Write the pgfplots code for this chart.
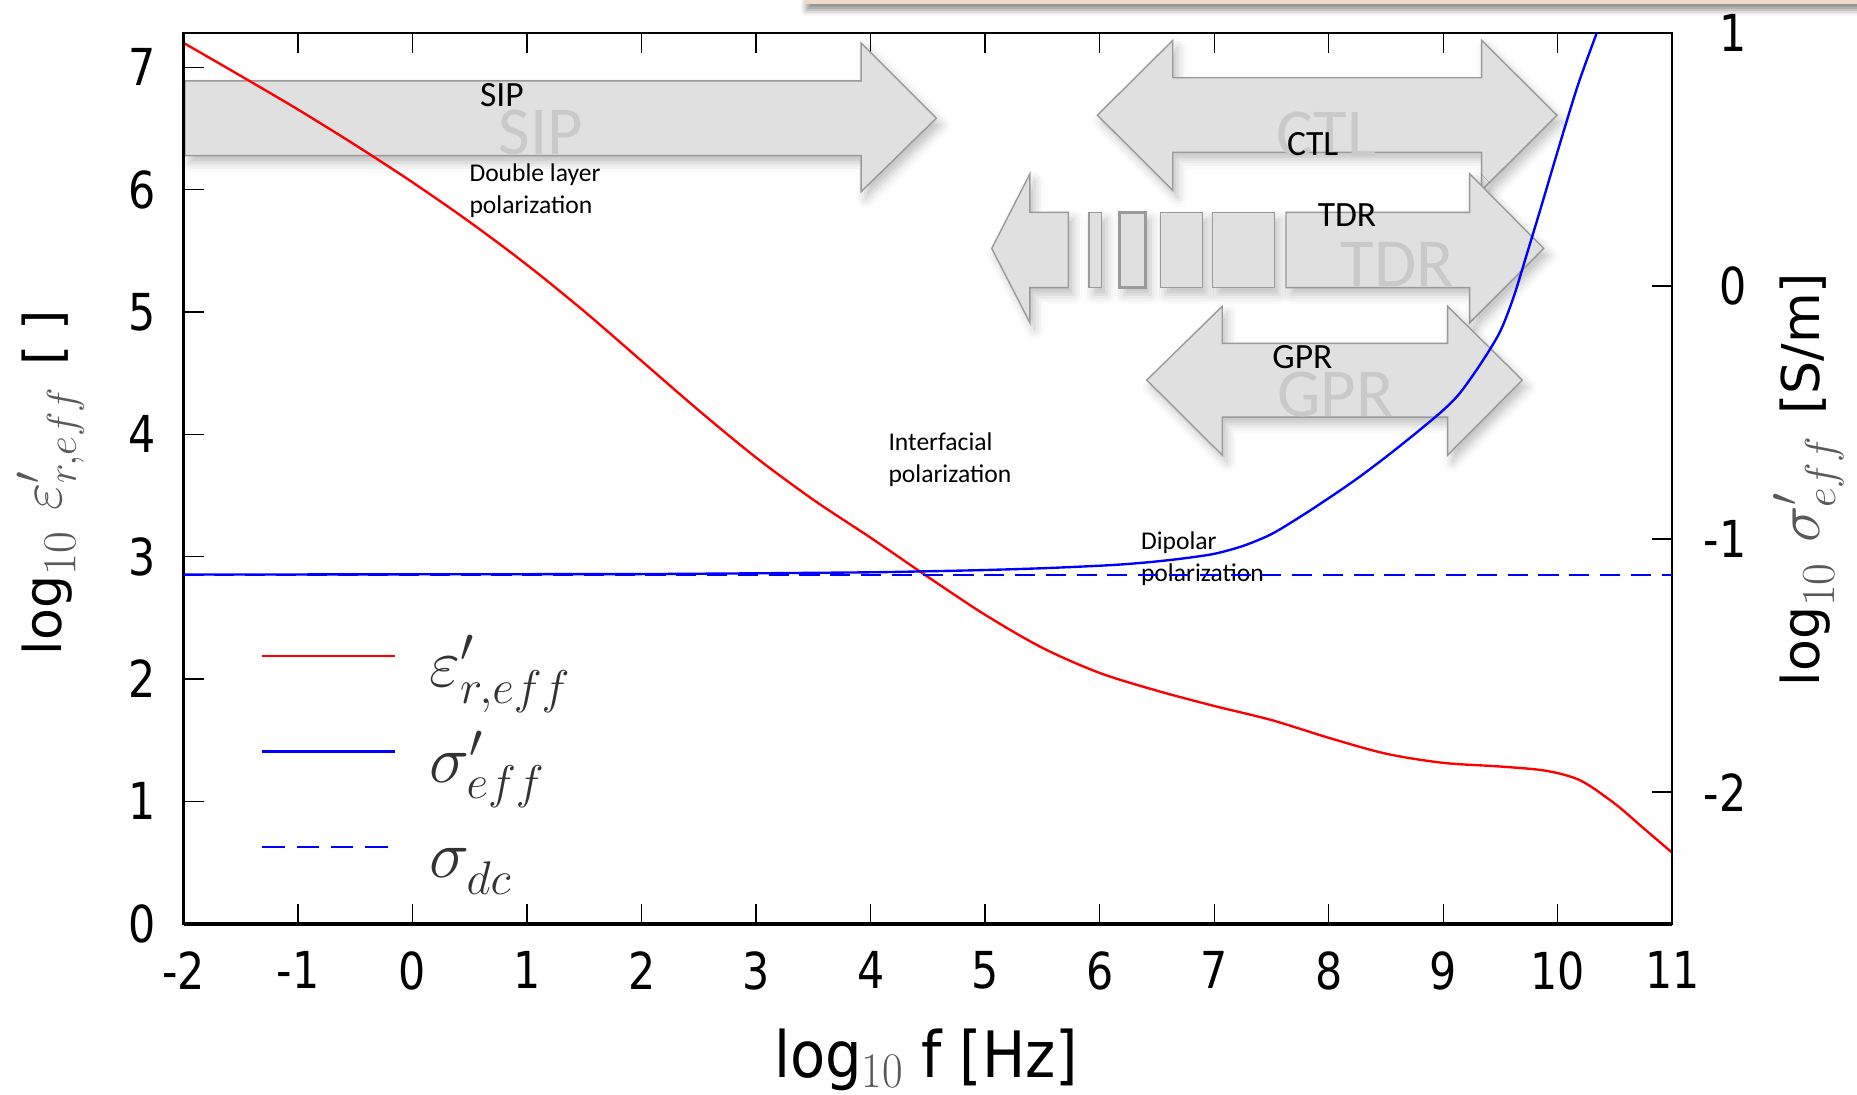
\RequirePackage{fix-cm}
\documentclass[border=0pt]{standalone}
\usepackage[no-math]{fontspec}
\setmainfont{DejaVu Sans}
\newfontfamily\calib{Carlito}
\usepackage{pgfplots}
\pgfplotsset{compat=1.18}
\usetikzlibrary{shadows.blur}
\definecolor{arrfill}{HTML}{E0E0E0}
\definecolor{arrdraw}{HTML}{9A9A9A}
\definecolor{ghostc}{HTML}{C9C9C9}
\definecolor{bandc}{HTML}{F2D8C6}
\newcommand{\sx}[1]{\scalebox{0.84}[1]{#1}}
\begin{document}
\begin{tikzpicture}[
  arr/.style={fill=arrfill, draw=arrdraw, line width=0.6pt, line join=miter,
     blur shadow={shadow xshift=2pt, shadow yshift=-3pt, shadow blur radius=4pt, shadow opacity=25}},
  ghost/.style={font=\calib\fontsize{29}{29}\selectfont, text=ghostc},
  lab/.style={font=\calib\fontsize{15}{15}\selectfont},
  small/.style={font=\calib\fontsize{10.8}{13.4}\selectfont, align=left, anchor=west, inner sep=0pt},
]
\begin{axis}[
  name=main,
  scale only axis, width=628.5pt, height=376pt,
  xmin=-2, xmax=11, ymin=0, ymax=7.28,
  clip=false,
  axis line style={line width=1pt},
  tick style={line width=0.6pt, black},
  major tick length=8.5pt,
  tick align=inside,
  xtick pos=both, ytick pos=left,
  xtick={-2,-1,0,1,2,3,4,5,6,7,8,9,10,11},
  xticklabels={\sx{-2},\sx{-1},\sx{0},\sx{1},\sx{2},\sx{3},\sx{4},\sx{5},\sx{6},\sx{7},\sx{8},\sx{9},\sx{10},\sx{11}},
  ytick={0,1,2,3,4,5,6,7},
  yticklabels={\sx{0},\sx{1},\sx{2},\sx{3},\sx{4},\sx{5},\sx{6},\sx{7}},
  xticklabel style={anchor=north, inner sep=0pt, yshift=-11.5pt, font=\fontsize{21.5}{21.5}\selectfont},
  yticklabel style={anchor=east, inner sep=0pt, xshift=-11.5pt, font=\fontsize{21.5}{21.5}\selectfont},
  xlabel={\scalebox{0.9}[1]{\fontsize{27}{27}\selectfont log\raisebox{-4pt}{\fontsize{21}{21}\selectfont\color{black!65}$10$}\ f [Hz]}},
  xlabel style={at={(rel axis cs:0.4988,-0.1729)}, anchor=base, inner sep=0pt},
  ylabel={\fontsize{22}{22}\selectfont log\raisebox{-6pt}{\fontsize{20}{20}\selectfont\color{black!65}$10$}\hspace{9pt}{\fontsize{25}{25}\selectfont\color{black!65}$\varepsilon'_{r,eff}$}\hspace{9pt}[\hspace{6pt}]},
  ylabel style={at={(rel axis cs:-0.0895,0.4953)}, anchor=center, inner sep=0pt},
  legend style={at={(rel axis cs:0.0517,0.324)}, anchor=north west, draw=none, fill=none,
    inner sep=0pt, row sep=17.5pt, column sep=14pt,
    font=\fontsize{28.5}{30}\selectfont, text=black!80, nodes={inner sep=0pt}},
  legend cell align=left,
  legend image code/.code={\draw[#1] (0pt,3pt) -- (56pt,3pt);},
]
\coordinate (BL) at (rel axis cs:-0.1233,-0.1915);
\coordinate (TR) at (rel axis cs:1.1241,1.0372);
% top band (cropped box)
\fill[bandc, blur shadow={shadow xshift=1pt, shadow yshift=-2.5pt, shadow blur radius=2.5pt, shadow opacity=45}]
  (rel axis cs:0.4169,1.0326) rectangle (rel axis cs:1.2,1.06);
% thicker bottom axis line
\draw[line width=1.6pt] (rel axis cs:0,0) -- (rel axis cs:1,0);
% arrows
\draw[arr] (-1.988,6.889) -- (3.916,6.889) -- (3.916,7.199) -- (4.573,6.584) -- (3.916,5.983) -- (3.916,6.279) -- (-1.988,6.279) -- cycle;
\draw[arr] (5.98,6.609) -- (6.638,7.221) -- (6.638,6.915) -- (9.335,6.915) -- (9.335,7.221) -- (9.993,6.609) -- (9.335,5.995) -- (9.335,6.306) -- (6.638,6.306) -- (6.638,5.995) -- cycle;
\draw[arr] (5.057,5.52) -- (5.391,6.130) -- (5.391,5.815) -- (5.727,5.815) -- (5.727,5.199) -- (5.391,5.199) -- (5.391,4.912) -- cycle;
\draw[arr] (5.907,5.199) rectangle (6.018,5.815);
\draw[arr, line width=1.2pt] (6.172,5.199) rectangle (6.402,5.815);
\draw[arr] (6.533,5.199) rectangle (6.896,5.815);
\draw[arr] (6.984,5.199) rectangle (7.526,5.815);
\draw[arr] (7.627,5.815) -- (9.231,5.815) -- (9.231,6.130) -- (9.877,5.52) -- (9.231,4.912) -- (9.231,5.199) -- (7.627,5.199) -- cycle;
\draw[arr] (6.411,4.444) -- (7.070,5.047) -- (7.070,4.744) -- (9.038,4.744) -- (9.038,5.047) -- (9.690,4.444) -- (9.038,3.830) -- (9.038,4.141) -- (7.070,4.141) -- (7.070,3.830) -- cycle;
% ghost labels
\node[ghost] at (1.12,6.47) {SIP};
\node[ghost] at (7.98,6.45) {CTL};
\node[ghost] at (8.60,5.385) {TDR};
\node[ghost] at (8.06,4.33) {GPR};
% epsilon curve
\addplot[red, line width=1pt, smooth] coordinates {
(-2,7.20) (-1.5,6.93) (-1,6.655) (-0.5,6.365) (0,6.06) (0.5,5.735) (1,5.385) (1.5,5.005)
(2,4.60) (2.5,4.195) (3,3.81) (3.5,3.465) (4,3.155) (4.5,2.835) (5,2.525) (5.5,2.255)
(6,2.05) (6.5,1.905) (7,1.78) (7.5,1.665) (8,1.52) (8.5,1.39) (9,1.315) (9.5,1.285)
(9.9,1.25) (10.2,1.17) (10.5,0.98) (10.75,0.78) (11,0.58)};
\addlegendentry{$\varepsilon'_{r,eff}$}
\addlegendimage{blue, line width=1pt}
\addlegendentry{$\sigma'_{eff}\vphantom{\varepsilon'_{r,eff}}$}
\addlegendimage{blue, line width=1pt, dash pattern=on 9.5pt off 5pt}
\addlegendentry{$\sigma^{}_{dc}\vphantom{\varepsilon'_{r,eff}}$}
% labels
\node[lab] at (0.78,6.77) {SIP};
\node[lab] at (7.86,6.37) {CTL};
\node[lab] at (8.16,5.79) {TDR};
\node[lab] at (7.77,4.628) {GPR};
\node[small] at (0.493,5.99) {Double layer\\polarization};
\node[small] at (4.152,3.795) {Interfacial\\polarization};
\node[small] at (6.357,2.986) {Dipolar\\polarization};
\end{axis}
\begin{axis}[
  scale only axis, width=628.5pt, height=376pt,
  xmin=-2, xmax=11, ymin=-2.52, ymax=1,
  hide x axis,
  axis line style={line width=1pt},
  ytick pos=right, yticklabel pos=right,
  tick style={line width=0.6pt, black},
  major tick length=8.5pt,
  tick align=inside,
  ytick={-2,-1,0,1},
  yticklabels={\sx{-2},\sx{-1},\sx{0},\sx{1}},
  yticklabel style={anchor=east, inner sep=0pt, xshift=31.5pt, font=\fontsize{21.5}{21.5}\selectfont},
  ylabel={\fontsize{22}{22}\selectfont log\raisebox{-6pt}{\fontsize{20}{20}\selectfont\color{black!65}$10$}\hspace{9pt}{\fontsize{26}{26}\selectfont\color{black!65}$\sigma'_{eff}$}\hspace{9pt}[S/m]},
  ylabel style={at={(rel axis cs:1.0915,0.4987)}, anchor=center, inner sep=0pt},
]
\addplot[blue, line width=1pt, dash pattern=on 8.5pt off 4.5pt] coordinates {(-2,-1.142) (11,-1.142)};
\addplot[blue, line width=1pt, smooth] coordinates {
(-2,-1.140) (-1,-1.1395) (0,-1.139) (1,-1.1385) (2,-1.138) (3,-1.135) (4,-1.131) (4.5,-1.127)
(5,-1.122) (5.5,-1.115) (6,-1.105) (6.25,-1.098) (6.5,-1.088) (6.75,-1.075)
(7,-1.058) (7.25,-1.027) (7.5,-0.980) (7.75,-0.912) (8.0,-0.838) (8.25,-0.760)
(8.5,-0.675) (8.75,-0.585) (9.0,-0.49) (9.15,-0.42) (9.337,-0.30) (9.496,-0.18)
(9.613,-0.045) (9.729,0.125) (9.846,0.30) (10.02,0.565) (10.18,0.80) (10.34,1.0)};
\end{axis}
\pgfresetboundingbox
\path (BL) rectangle (TR);
\end{tikzpicture}
\end{document}
